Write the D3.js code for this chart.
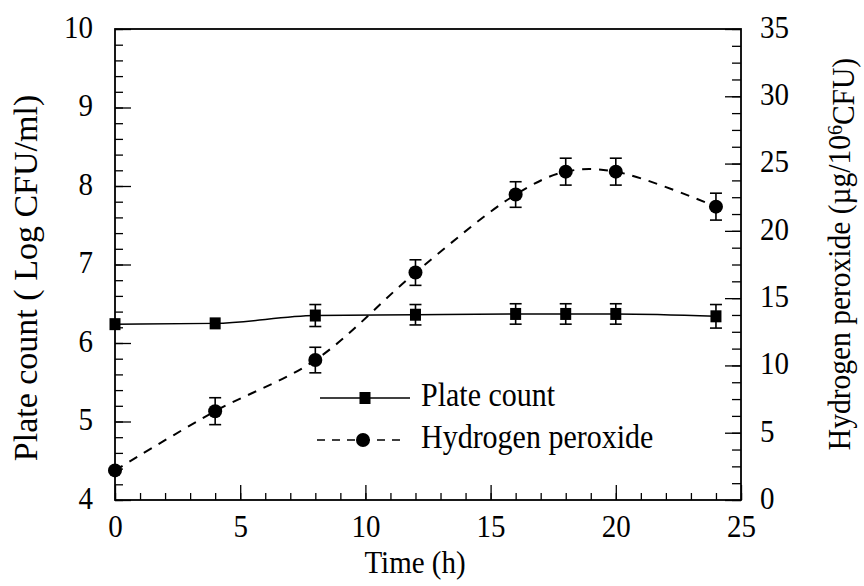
<!DOCTYPE html>
<html>
<head>
<meta charset="utf-8">
<script src="https://cdn.jsdelivr.net/npm/d3@7"></script>
<style>
  body { margin: 0; background: #fff; }
  svg text { font-family: "Liberation Serif", "Times New Roman", serif; fill: #000; }
</style>
</head>
<body>
<div id="chart"></div>
<script>
const times = [0, 4, 8, 12, 16, 18, 20, 24];
const plateCount = [6.24, 6.25, 6.35, 6.36, 6.37, 6.37, 6.37, 6.34];
const plateErr = [0, 0, 0.14, 0.13, 0.13, 0.13, 0.13, 0.15];
const peroxide = [2.2, 6.6, 10.4, 16.9, 22.7, 24.4, 24.4, 21.8];
const peroxideErr = [0, 1.0, 0.95, 0.95, 0.95, 1.0, 1.0, 1.0];

const xTicks = [0, 5, 10, 15, 20, 25];
const leftTicks = [4, 5, 6, 7, 8, 9, 10];
const rightTicks = [0, 5, 10, 15, 20, 25, 30, 35];

const W = 864, H = 586;
const plot = { left: 115, right: 741, top: 29, bottom: 500 };
const stretch = 1.1; // scanned text is a bit taller than wide

const svg = d3.select("#chart")
    .append("svg")
    .attr("width", W)
    .attr("height", H);

const x = d3.scaleLinear().domain([0, 25]).range([plot.left, plot.right]);
const yL = d3.scaleLinear().domain([4, 10]).range([plot.bottom, plot.top]);
const yR = d3.scaleLinear().domain([0, 35]).range([plot.bottom, plot.top]);

// minor ticks first, majors on top
svg.append("g")
    .attr("transform", `translate(0,${plot.bottom})`)
    .call(d3.axisBottom(x).tickValues(d3.range(0, 25.01, 1)).tickSize(-7).tickSizeOuter(0).tickFormat(""));
svg.append("g")
    .attr("transform", `translate(${plot.left},0)`)
    .call(d3.axisLeft(yL).tickValues(d3.range(4, 10.01, 0.2)).tickSize(-8).tickSizeOuter(0).tickFormat(""));
svg.append("g")
    .attr("transform", `translate(${plot.right},0)`)
    .call(d3.axisRight(yR).tickValues(d3.range(0, 35.01, 1.25)).tickSize(-9).tickSizeOuter(0).tickFormat(""));

const fmt = d3.format("d");
const xAxis = svg.append("g")
    .attr("transform", `translate(0,${plot.bottom})`)
    .call(d3.axisBottom(x).tickValues(xTicks).tickSize(-15).tickSizeOuter(0).tickPadding(13).tickFormat(fmt));
const lAxis = svg.append("g")
    .attr("transform", `translate(${plot.left},0)`)
    .call(d3.axisLeft(yL).tickValues(leftTicks).tickSize(-16).tickSizeOuter(0).tickPadding(22).tickFormat(fmt));
const rAxis = svg.append("g")
    .attr("transform", `translate(${plot.right},0)`)
    .call(d3.axisRight(yR).tickValues(rightTicks).tickSize(-16).tickSizeOuter(0).tickPadding(19).tickFormat(fmt));

svg.selectAll(".tick line").attr("stroke", "#000").attr("stroke-width", 1.3);
svg.selectAll(".domain").remove();
[xAxis, lAxis, rAxis].forEach(a => a.selectAll("text")
    .style("font-family", "Liberation Serif")
    .style("font-size", "29px")
    .attr("fill", "#000")
    .attr("transform", `scale(1,${stretch})`));
lAxis.selectAll("text").attr("dy", "0.26em");
rAxis.selectAll("text").attr("dy", "0.26em");

// frame
svg.append("rect")
    .attr("x", plot.left)
    .attr("y", plot.top)
    .attr("width", plot.right - plot.left)
    .attr("height", plot.bottom - plot.top)
    .attr("fill", "none")
    .attr("stroke", "#000")
    .attr("stroke-width", 1.8);

// axis titles
svg.append("text")
    .attr("transform", `translate(${(plot.left + plot.right) / 2 - 13},573) scale(1,${stretch})`)
    .attr("text-anchor", "middle")
    .style("font-size", "29px")
    .text("Time (h)");

svg.append("text")
    .attr("transform", "translate(37,278) rotate(-90)")
    .attr("text-anchor", "middle")
    .style("font-size", "34px")
    .text("Plate count ( Log CFU/ml)");

const rTitle = svg.append("text")
    .attr("transform", "translate(850,254) rotate(-90) scale(1,1.05)")
    .attr("text-anchor", "middle")
    .style("font-size", "29.5px");
rTitle.append("tspan").text("Hydrogen peroxide (\u00b5g/10");
rTitle.append("tspan").attr("dy", "-0.4em").style("font-size", "20px").text("6");
rTitle.append("tspan").attr("dy", "0.4em").text("CFU)");

// series
const plateData = times.map((t, i) => ({ t, v: plateCount[i], e: plateErr[i] }));
const peroxData = times.map((t, i) => ({ t, v: peroxide[i], e: peroxideErr[i] }));

svg.append("path")
    .datum(plateData)
    .attr("fill", "none")
    .attr("stroke", "#000")
    .attr("stroke-width", 1.5)
    .attr("d", d3.line().x(d => x(d.t)).y(d => yL(d.v)).curve(d3.curveMonotoneX));

svg.append("path")
    .datum(peroxData)
    .attr("fill", "none")
    .attr("stroke", "#000")
    .attr("stroke-width", 2)
    .attr("stroke-dasharray", "9,8")
    .attr("d", d3.line().x(d => x(d.t)).y(d => yR(d.v)).curve(d3.curveCatmullRom));

function errorBars(data, y) {
    const g = svg.append("g").attr("stroke", "#000").attr("stroke-width", 1.6);
    data.filter(d => d.e > 0).forEach(d => {
        const cx = x(d.t), y0 = y(d.v - d.e), y1 = y(d.v + d.e);
        g.append("line").attr("x1", cx).attr("x2", cx).attr("y1", y0).attr("y2", y1);
        g.append("line").attr("x1", cx - 6).attr("x2", cx + 6).attr("y1", y0).attr("y2", y0);
        g.append("line").attr("x1", cx - 6).attr("x2", cx + 6).attr("y1", y1).attr("y2", y1);
    });
}
errorBars(plateData, yL);
errorBars(peroxData, yR);

svg.append("g").selectAll("rect")
    .data(plateData)
    .enter()
    .append("rect")
    .attr("x", d => x(d.t) - 5.5)
    .attr("y", d => yL(d.v) - 6)
    .attr("width", 11)
    .attr("height", 12)
    .attr("fill", "#000");

svg.append("g").selectAll("circle")
    .data(peroxData)
    .enter()
    .append("circle")
    .attr("cx", d => x(d.t))
    .attr("cy", d => yR(d.v))
    .attr("r", 7)
    .attr("fill", "#000");

// legend
const legend = svg.append("g");
legend.append("line")
    .attr("x1", 320).attr("x2", 410).attr("y1", 398).attr("y2", 398)
    .attr("stroke", "#000").attr("stroke-width", 1.5);
legend.append("rect")
    .attr("x", 365 - 5.5).attr("y", 398 - 6).attr("width", 11).attr("height", 12)
    .attr("fill", "#000");
legend.append("text")
    .attr("transform", `translate(421,406) scale(1,${stretch})`)
    .style("font-size", "30px")
    .text("Plate count");

legend.append("line")
    .attr("x1", 317).attr("x2", 405).attr("y1", 440).attr("y2", 440)
    .attr("stroke", "#000").attr("stroke-width", 1.5)
    .attr("stroke-dasharray", "8,7");
legend.append("circle")
    .attr("cx", 363).attr("cy", 440).attr("r", 7)
    .attr("fill", "#000");
legend.append("text")
    .attr("transform", `translate(421,448) scale(1,${stretch})`)
    .style("font-size", "30px")
    .text("Hydrogen peroxide");
</script>
</body>
</html>
